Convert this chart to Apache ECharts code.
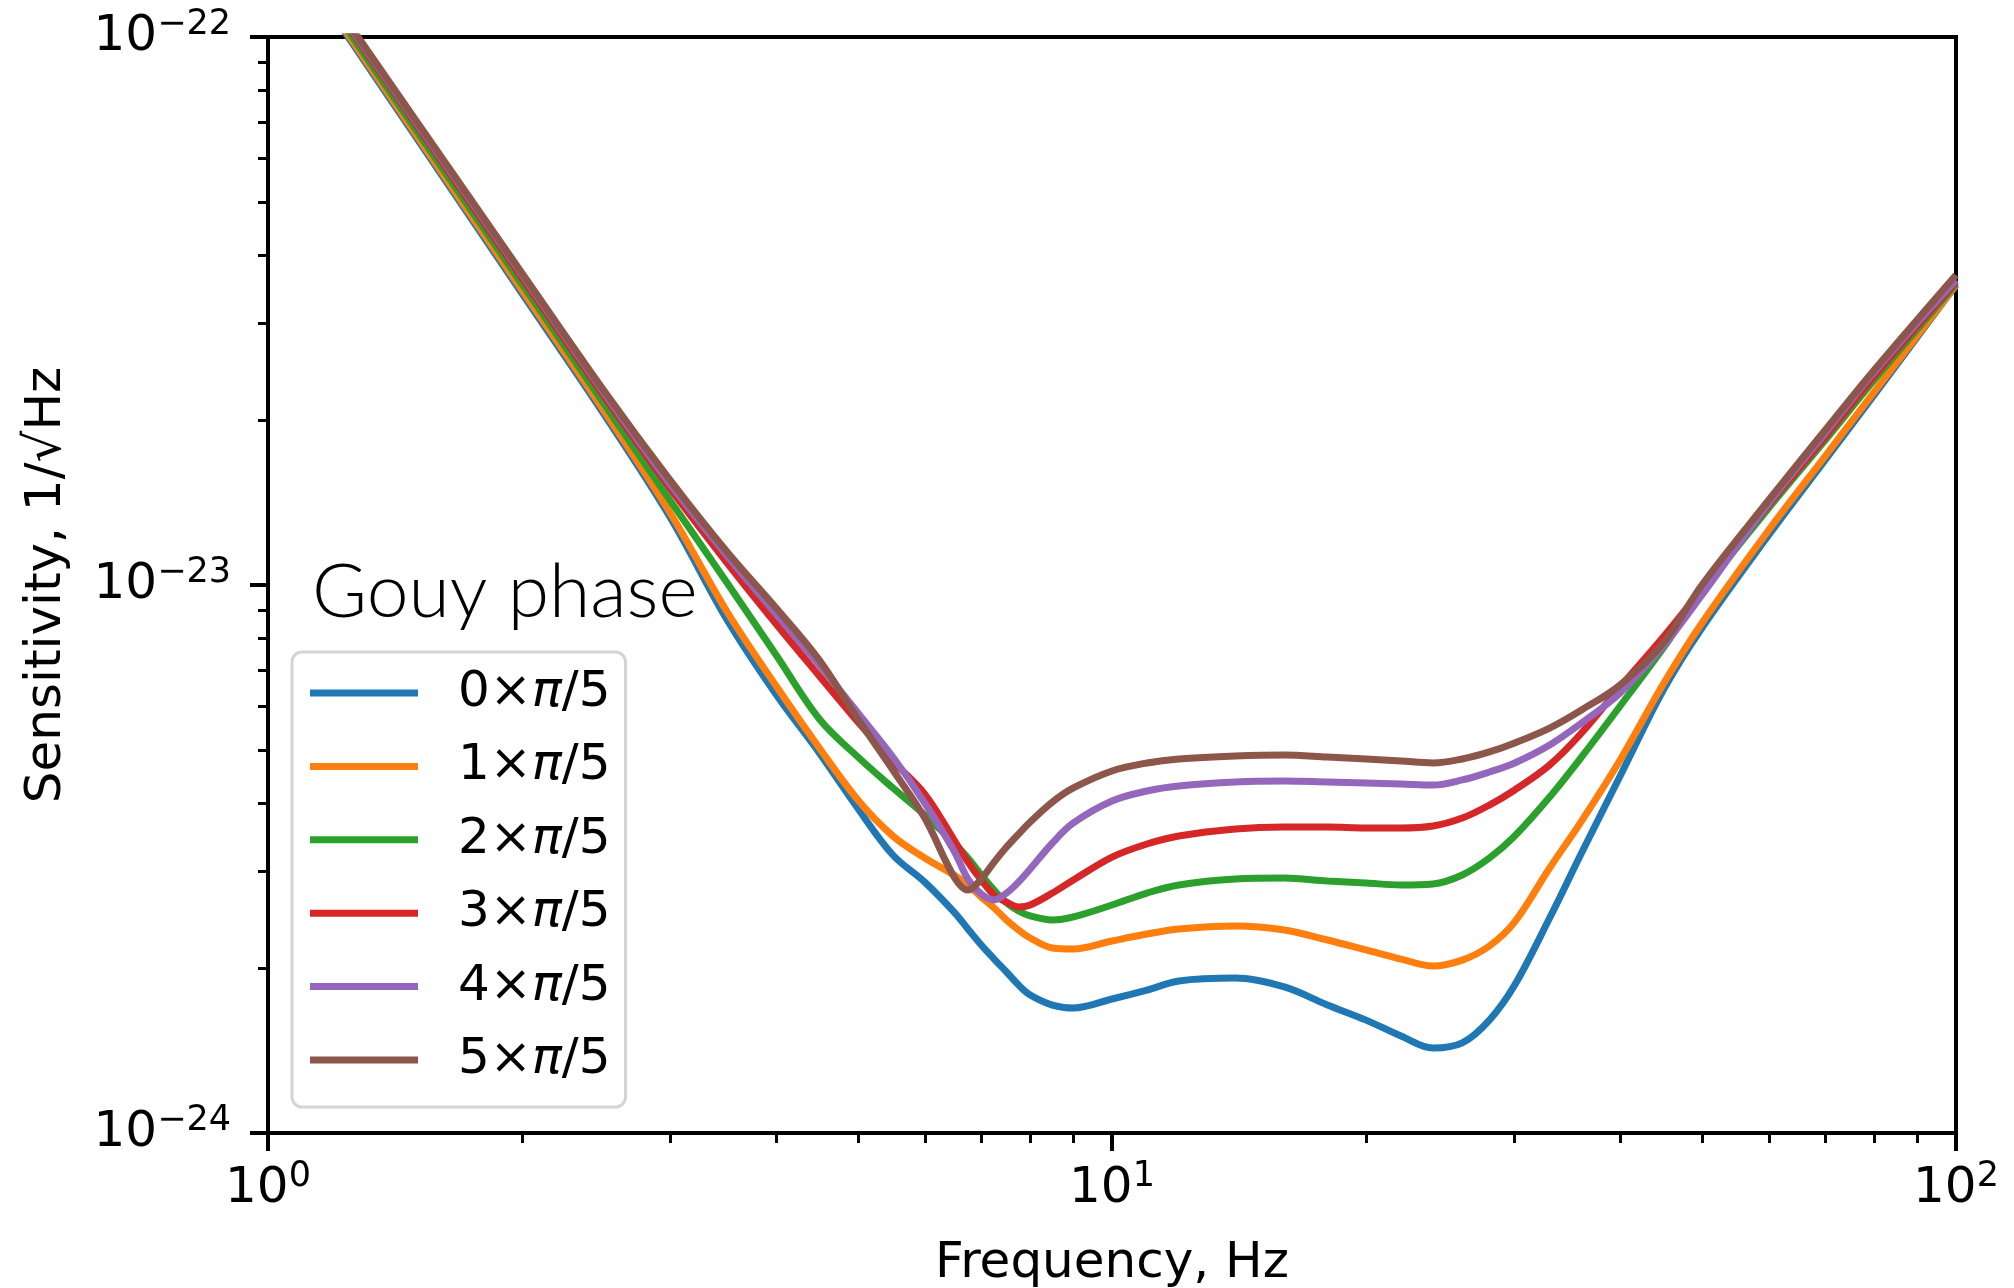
<!DOCTYPE html>
<html>
<head>
<meta charset="utf-8">
<script src="https://cdn.jsdelivr.net/npm/echarts@6/dist/echarts.min.js"></script>
<style>
html,body{margin:0;padding:0;background:#fff;}
#chart{width:2014px;height:1288px;}
</style>
</head>
<body>
<div id="chart"></div>
<script>
// Frequencies (Hz)
const frequencies = [1, 1.2, 1.5, 2, 2.5, 3, 3.5, 4, 4.5, 5, 5.5, 6, 6.5, 6.75, 7, 7.25, 7.5, 7.75, 8, 8.5, 9, 10, 11, 12, 14, 16, 18, 20, 22, 24, 26, 28, 30, 33, 36, 40, 45, 50, 60, 70, 80, 100];
// Sensitivity values, expressed in units of 1e-23 1/sqrt(Hz)
const UNIT_EXPONENT = -23;
const phase0 = [16.41, 10.86, 6.54, 3.404, 2.051, 1.324, 0.863, 0.631, 0.494, 0.391, 0.3216, 0.287, 0.253, 0.2357, 0.2203, 0.2077, 0.1967, 0.1862, 0.1786, 0.1712, 0.1691, 0.1756, 0.1823, 0.1894, 0.1917, 0.1847, 0.1712, 0.1607, 0.1503, 0.1429, 0.146, 0.1607, 0.1862, 0.2468, 0.3243, 0.4482, 0.6433, 0.8347, 1.234, 1.691, 2.222, 3.527];
const phase1 = [16.52, 10.96, 6.607, 3.451, 2.080, 1.349, 0.8927, 0.6542, 0.5042, 0.4052, 0.3483, 0.3175, 0.2957, 0.2835, 0.2695, 0.2574, 0.2447, 0.2347, 0.2269, 0.2176, 0.2167, 0.2241, 0.2307, 0.2357, 0.2386, 0.2347, 0.225, 0.2158, 0.2077, 0.2017, 0.2068, 0.2194, 0.2427, 0.3045, 0.3709, 0.4794, 0.6597, 0.8525, 1.26, 1.719, 2.251, 3.527];
const phase2 = [16.75, 11.14, 6.745, 3.540, 2.143, 1.422, 1.0083, 0.7451, 0.5695, 0.4854, 0.4262, 0.3804, 0.3382, 0.3175, 0.2957, 0.2775, 0.2629, 0.2542, 0.2489, 0.2447, 0.2479, 0.2607, 0.2741, 0.2835, 0.2907, 0.2919, 0.2883, 0.2859, 0.2835, 0.2847, 0.2957, 0.3175, 0.3483, 0.4103, 0.4854, 0.6015, 0.7674, 0.971, 1.382, 1.839, 2.366, 3.542];
const phase3 = [16.98, 11.35, 6.902, 3.631, 2.213, 1.496, 1.0967, 0.8487, 0.6822, 0.5623, 0.4773, 0.4155, 0.3425, 0.3122, 0.2895, 0.2718, 0.2639, 0.2585, 0.2607, 0.2741, 0.2895, 0.3188, 0.3368, 0.3483, 0.3587, 0.3617, 0.3617, 0.3602, 0.3602, 0.3632, 0.3756, 0.3967, 0.4226, 0.4694, 0.5369, 0.6515, 0.8037, 0.9833, 1.3996, 1.8625, 2.406, 3.572];
const phase4 = [17.10, 11.43, 6.966, 3.681, 2.244, 1.524, 1.1296, 0.8853, 0.7145, 0.584, 0.4854, 0.4001, 0.327, 0.2907, 0.2729, 0.2662, 0.2741, 0.2871, 0.3032, 0.3382, 0.3679, 0.4035, 0.4208, 0.4297, 0.437, 0.4388, 0.437, 0.4352, 0.4334, 0.4315, 0.4408, 0.4558, 0.4734, 0.5105, 0.56, 0.6352, 0.7738, 0.959, 1.4113, 1.894, 2.447, 3.603];
const phase5 = [17.18, 11.51, 7.015, 3.707, 2.265, 1.549, 1.1488, 0.9078, 0.7297, 0.5694, 0.4597, 0.3756, 0.2932, 0.2775, 0.2907, 0.3122, 0.3326, 0.3512, 0.3694, 0.4018, 0.4262, 0.4577, 0.4734, 0.4814, 0.4875, 0.4896, 0.4854, 0.4814, 0.4773, 0.4734, 0.4814, 0.4958, 0.5149, 0.5482, 0.5915, 0.657, 0.7839, 1.0, 1.4291, 1.9178, 2.468, 3.679];

const seriesNames = ['0\u00d7\u03c0/5', '1\u00d7\u03c0/5', '2\u00d7\u03c0/5', '3\u00d7\u03c0/5', '4\u00d7\u03c0/5', '5\u00d7\u03c0/5'];
const seriesValues = [phase0, phase1, phase2, phase3, phase4, phase5];
const seriesColors = ['#1f77b4', '#ff7f0e', '#2ca02c', '#d62728', '#9467bd', '#8c564b'];

// Tick positions (x in Hz, y in units of 1e-23)
const xMajorTicks = [1.0000001, 10, 99.99999];
const xMinorTicks = [2, 3, 4, 5, 6, 7, 8, 9, 20, 30, 40, 50, 60, 70, 80, 90];
const yMajorTicks = [0.1000001, 1, 9.999999];
const yMinorTicks = [0.2, 0.3, 0.4, 0.5, 0.6, 0.7, 0.8, 0.9, 2, 3, 4, 5, 6, 7, 8, 9];

const FONT = 'DejaVu Sans';
function powLabel(exp) {
  return '{b|10}{s|' + (exp < 0 ? '\u2212' + (-exp) : String(exp)) + '}';
}
const xLabel = v => powLabel(Math.round(Math.log10(v)));
const yLabel = v => powLabel(Math.round(Math.log10(v)) + UNIT_EXPONENT);
const powRich = {
  b: { fontSize: 50, fontFamily: FONT, color: '#000', lineHeight: 60 },
  s: { fontSize: 35, fontFamily: FONT, color: '#000', lineHeight: 35, verticalAlign: 'top' }
};

const chart = echarts.init(document.getElementById('chart'), null, { renderer: 'canvas' });

const series = seriesValues.map((vals, i) => ({
  type: 'line',
  name: seriesNames[i],
  data: frequencies.map((f, j) => [f, vals[j]]),
  showSymbol: false,
  symbol: 'none',
  smooth: 0.35,
  clip: true,
  lineStyle: { width: 7, color: seriesColors[i] },
  itemStyle: { color: seriesColors[i] },
  emphasis: { disabled: true },
  z: 2 + i
}));

const option = {
  animation: false,
  backgroundColor: '#fff',
  textStyle: { fontFamily: FONT },
  title: {
    text: 'Gouy phase',
    left: 312,
    top: 555,
    padding: 0,
    textStyle: { fontFamily: 'Lato', fontWeight: 300, fontSize: 75, color: '#000' }
  },
  grid: {
    left: 268, top: 37, width: 1688, height: 1096,
    show: true, borderColor: '#000', borderWidth: 4, backgroundColor: 'transparent',
    containLabel: false, outerBoundsMode: 'none'
  },
  legend: {
    data: seriesNames,
    orient: 'vertical',
    left: 292,
    top: 652,
    icon: 'rect',
    itemWidth: 108,
    itemHeight: 7,
    itemGap: 15.4,
    padding: [12, 15, 18, 18],
    backgroundColor: 'rgba(255,255,255,0.8)',
    borderColor: '#d4d4d4',
    borderWidth: 3,
    borderRadius: 10,
    selectedMode: false,
    formatter: name => name.replace('\u03c0', '{i|\u03c0}'),
    textStyle: {
      fontSize: 50, fontFamily: FONT, color: '#000', lineHeight: 58,
      padding: [0, 0, 0, 35],
      rich: { i: { fontSize: 50, fontFamily: FONT, fontStyle: 'italic', color: '#000', lineHeight: 58 } }
    }
  },
  xAxis: [
    {
      type: 'log', logBase: 10, min: 1, max: 100, position: 'bottom',
      name: 'Frequency, Hz', nameLocation: 'middle', nameGap: 106,
      nameTextStyle: { fontSize: 50, fontFamily: FONT, color: '#000' },
      axisLine: { show: true, onZero: false, lineStyle: { color: '#000', width: 4 } },
      axisTick: { show: true, customValues: xMajorTicks, length: 18, lineStyle: { color: '#000', width: 4 } },
      axisLabel: { show: true, customValues: xMajorTicks, margin: 26, formatter: xLabel, rich: powRich },
      splitLine: { show: false }, minorTick: { show: false }, minorSplitLine: { show: false }
    },
    {
      type: 'log', logBase: 10, min: 1, max: 100, position: 'bottom',
      axisLine: { show: false },
      axisTick: { show: true, customValues: xMinorTicks, length: 10, lineStyle: { color: '#000', width: 3 } },
      axisLabel: { show: false },
      splitLine: { show: false }
    }
  ],
  yAxis: [
    {
      type: 'log', logBase: 10, min: 0.1, max: 10, position: 'left',
      name: 'Sensitivity, 1/\u221aHz', nameLocation: 'middle', nameGap: 196, nameRotate: 90,
      nameTextStyle: { fontSize: 50, fontFamily: FONT, color: '#000' },
      axisLine: { show: true, onZero: false, lineStyle: { color: '#000', width: 4 } },
      axisTick: { show: true, customValues: yMajorTicks, length: 18, lineStyle: { color: '#000', width: 4 } },
      axisLabel: { show: true, customValues: yMajorTicks, margin: 37, formatter: yLabel, rich: powRich },
      splitLine: { show: false }, minorTick: { show: false }, minorSplitLine: { show: false }
    },
    {
      type: 'log', logBase: 10, min: 0.1, max: 10, position: 'left',
      axisLine: { show: false },
      axisTick: { show: true, customValues: yMinorTicks, length: 10, lineStyle: { color: '#000', width: 3 } },
      axisLabel: { show: false },
      splitLine: { show: false }
    }
  ],
  series: series
};
chart.setOption(option);
</script>
</body>
</html>
